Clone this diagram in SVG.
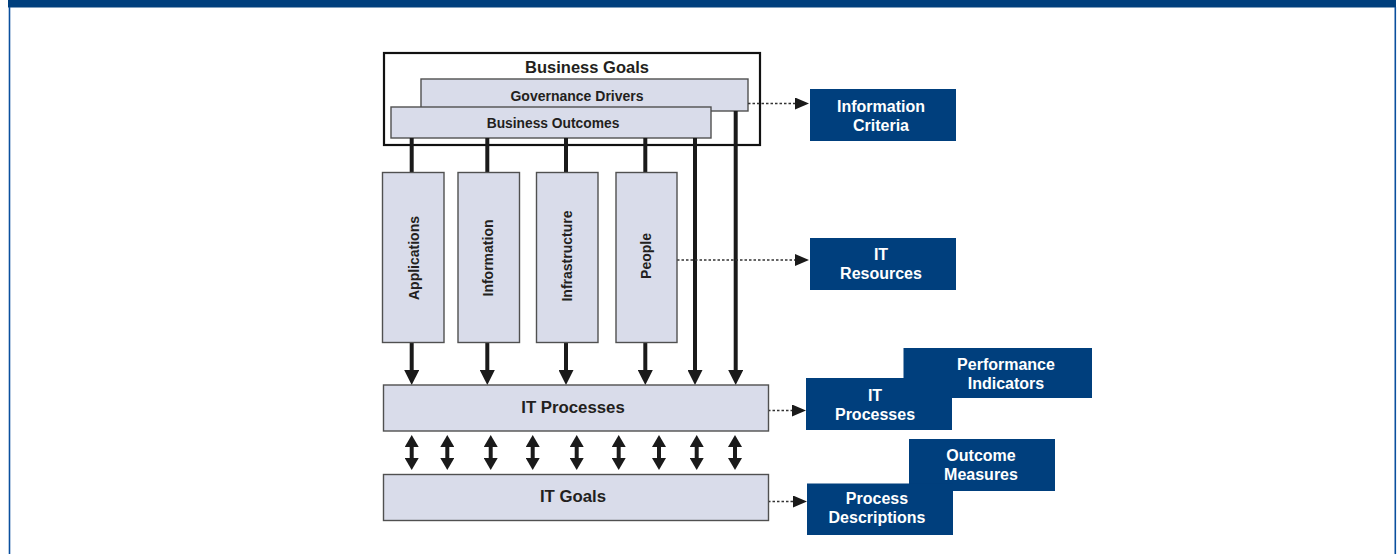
<svg xmlns="http://www.w3.org/2000/svg" width="1399" height="554" viewBox="0 0 1399 554">
<style>
.box{fill:#d9dcea;stroke:#505050;stroke-width:1.4}
.blue{fill:#003f7d}
.t{font-family:"Liberation Sans",Arial,sans-serif;font-weight:bold;fill:#231f20;text-anchor:middle}
.w{font-family:"Liberation Sans",Arial,sans-serif;font-weight:bold;fill:#ffffff;text-anchor:middle;font-size:16px}
.shaft{stroke:#1a1a1a;stroke-width:4;fill:none}
.dot{stroke:#333;stroke-width:1.3;stroke-dasharray:2.5,2;fill:none}
</style>
<defs>
<marker id="ah" markerUnits="userSpaceOnUse" markerWidth="15" markerHeight="15" refX="5" refY="7.5" orient="auto"><path d="M0,0 L15,7.5 L0,15 z" fill="#1a1a1a"/></marker>
<marker id="dh" markerUnits="userSpaceOnUse" markerWidth="12" markerHeight="14" refX="4" refY="7" orient="auto-start-reverse"><path d="M0,0 L12,7 L0,14 z" fill="#1a1a1a"/></marker>
<marker id="sh" markerUnits="userSpaceOnUse" markerWidth="14" markerHeight="12" refX="5" refY="6" orient="auto"><path d="M0,0 L14,6 L0,12 z" fill="#1a1a1a"/></marker>
</defs>
<rect x="8" y="0" width="1388" height="7.5" fill="#003f7d"/>
<line x1="9.5" y1="7" x2="9.5" y2="554" stroke="#0a4f9e" stroke-width="1.6"/>
<line x1="1395.3" y1="7" x2="1395.3" y2="554" stroke="#0a4f9e" stroke-width="1.6"/>

<g id="business-goals">
<rect x="384" y="53" width="376" height="92" fill="#ffffff" stroke="#111" stroke-width="2.2"/>
<text class="t" x="587" y="72.5" font-size="16.5">Business Goals</text>
</g>
<g id="governance-drivers">
<rect class="box" x="421" y="79" width="327" height="32"/>
<text class="t" x="577" y="100.5" font-size="14">Governance Drivers</text>
</g>
<g id="business-outcomes">
<rect class="box" x="391" y="107" width="320" height="31"/>
<text class="t" x="553" y="128.3" font-size="13.8">Business Outcomes</text>
</g>

<g id="connectors">
<line class="shaft" x1="411.7" y1="138" x2="411.7" y2="172"/>
<line class="shaft" x1="487.3" y1="138" x2="487.3" y2="172"/>
<line class="shaft" x1="566" y1="138" x2="566" y2="172"/>
<line class="shaft" x1="645.3" y1="138" x2="645.3" y2="172"/>
<line class="shaft" x1="411.7" y1="343" x2="411.7" y2="375" marker-end="url(#ah)"/>
<line class="shaft" x1="487.3" y1="343" x2="487.3" y2="375" marker-end="url(#ah)"/>
<line class="shaft" x1="566" y1="343" x2="566" y2="375" marker-end="url(#ah)"/>
<line class="shaft" x1="645.3" y1="343" x2="645.3" y2="375" marker-end="url(#ah)"/>
<line class="shaft" x1="695" y1="138" x2="695" y2="375" marker-end="url(#ah)"/>
<line class="shaft" x1="735.7" y1="111" x2="735.7" y2="375" marker-end="url(#ah)"/>
<line class="shaft" x1="411.7" y1="443" x2="411.7" y2="462" marker-start="url(#dh)" marker-end="url(#dh)"/>
<line class="shaft" x1="447.3" y1="443" x2="447.3" y2="462" marker-start="url(#dh)" marker-end="url(#dh)"/>
<line class="shaft" x1="490.7" y1="443" x2="490.7" y2="462" marker-start="url(#dh)" marker-end="url(#dh)"/>
<line class="shaft" x1="532.7" y1="443" x2="532.7" y2="462" marker-start="url(#dh)" marker-end="url(#dh)"/>
<line class="shaft" x1="576.7" y1="443" x2="576.7" y2="462" marker-start="url(#dh)" marker-end="url(#dh)"/>
<line class="shaft" x1="618.7" y1="443" x2="618.7" y2="462" marker-start="url(#dh)" marker-end="url(#dh)"/>
<line class="shaft" x1="659" y1="443" x2="659" y2="462" marker-start="url(#dh)" marker-end="url(#dh)"/>
<line class="shaft" x1="696.7" y1="443" x2="696.7" y2="462" marker-start="url(#dh)" marker-end="url(#dh)"/>
<line class="shaft" x1="735" y1="443" x2="735" y2="462" marker-start="url(#dh)" marker-end="url(#dh)"/>
<line class="dot" x1="748" y1="103.5" x2="800" y2="103.5" marker-end="url(#sh)"/>
<line class="dot" x1="677" y1="260" x2="800" y2="260" marker-end="url(#sh)"/>
<line class="dot" x1="768" y1="410.5" x2="797" y2="410.5" marker-end="url(#sh)"/>
<line class="dot" x1="768" y1="501.5" x2="798" y2="501.5" marker-end="url(#sh)"/>
</g>

<g id="applications">
<rect class="box" x="382.5" y="172.5" width="61.5" height="170"/>
<text class="t" font-size="14" transform="translate(419,258) rotate(-90)">Applications</text>
</g>
<g id="information">
<rect class="box" x="458" y="172.5" width="61.5" height="170"/>
<text class="t" font-size="14" transform="translate(493,258) rotate(-90)">Information</text>
</g>
<g id="infrastructure">
<rect class="box" x="536.5" y="172.5" width="61.5" height="170"/>
<text class="t" font-size="14" transform="translate(572,256) rotate(-90)">Infrastructure</text>
</g>
<g id="people">
<rect class="box" x="616" y="172.5" width="61" height="170"/>
<text class="t" font-size="14" transform="translate(650.5,256) rotate(-90)">People</text>
</g>

<g id="it-processes">
<rect class="box" x="383.5" y="385" width="385" height="46"/>
<text class="t" x="573" y="413" font-size="16.8">IT Processes</text>
</g>
<g id="it-goals">
<rect class="box" x="383.5" y="474.5" width="385" height="46"/>
<text class="t" x="573" y="502" font-size="16.8">IT Goals</text>
</g>

<g id="information-criteria">
<rect class="blue" x="810" y="89" width="146" height="52"/>
<text class="w" x="881" y="111.5">Information</text>
<text class="w" x="881" y="130.5">Criteria</text>
</g>
<g id="it-resources">
<rect class="blue" x="810" y="238" width="146" height="52"/>
<text class="w" x="881" y="260">IT</text>
<text class="w" x="881" y="279">Resources</text>
</g>
<g id="performance-indicators">
<rect class="blue" x="903.5" y="348" width="188.5" height="50"/>
<text class="w" x="1006" y="370">Performance</text>
<text class="w" x="1006" y="389">Indicators</text>
</g>
<g id="it-processes-blue">
<rect class="blue" x="806" y="378" width="146" height="52"/>
<text class="w" x="875" y="401">IT</text>
<text class="w" x="875" y="419.5">Processes</text>
</g>
<g id="outcome-measures">
<rect class="blue" x="909" y="439" width="146" height="52"/>
<text class="w" x="981" y="461">Outcome</text>
<text class="w" x="981" y="480">Measures</text>
</g>
<g id="process-descriptions">
<rect class="blue" x="807" y="483.5" width="146" height="51.5"/>
<text class="w" x="877" y="503.5">Process</text>
<text class="w" x="877" y="522.5">Descriptions</text>
</g>
</svg>
